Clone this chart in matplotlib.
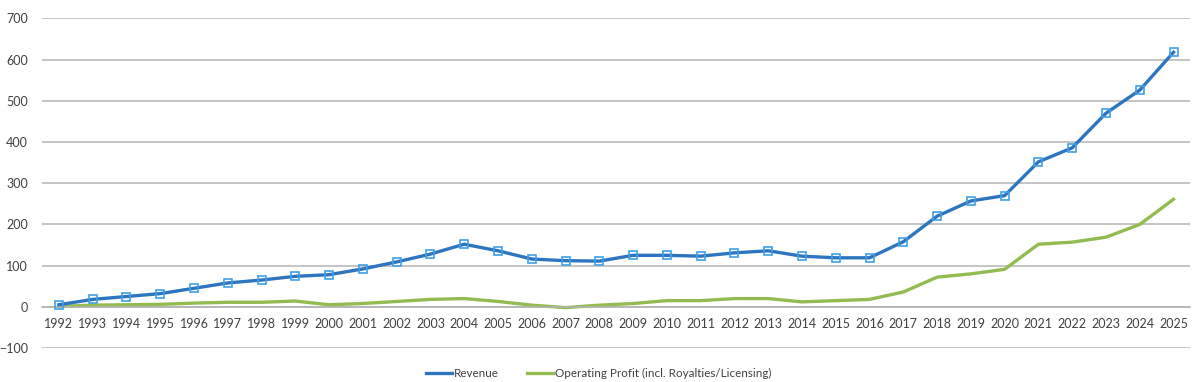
import numpy as np
from matplotlib import pyplot as plt
from matplotlib.lines import Line2D

years = list(range(1992, 2026))
revenue = [5, 18, 25, 32, 45, 58, 65, 74, 78, 92,
           109, 128, 152, 136, 116, 112, 111, 125, 125, 123,
           131, 136, 123, 119, 119, 158, 220, 257, 270, 352,
           386, 470, 526, 618]
op_profit = [1, 4, 5, 6, 9, 11, 11, 14, 5, 8,
             13, 18, 20, 13, 4, -2, 4, 8, 15, 15,
             20, 20, 12, 15, 18, 36, 72, 80, 91, 152,
             157, 169, 200, 261]
y_ticks = [-100, 0, 100, 200, 300, 400, 500, 600, 700]

plt.rcParams['font.family'] = ['Lato', 'DejaVu Sans']

rev_color = '#2E75C0'
op_color = '#93BC50'

fig = plt.figure(figsize=(12, 3.82), dpi=100)
ax = fig.add_axes([0.035, 0.089, 0.957, 0.8626])

ax.plot(years, revenue, color=rev_color, linewidth=2.4, marker='s', markersize=6,
        markerfacecolor='none', markeredgecolor='#3FA0E8', markeredgewidth=1.2,
        zorder=3)
ax.plot(years, op_profit, color=op_color, linewidth=2.4, zorder=2)

ax.set_xlim(1991.5, 2025.5)
ax.set_ylim(-100, 700)
ax.set_yticks(y_ticks)
ax.set_xticks(years)
ax.set_xticklabels([str(y) for y in years])
ax.grid(axis='y', color='#B4B4B4', linewidth=1.1)
ax.set_axisbelow(True)

for s in ['top', 'right', 'left']:
    ax.spines[s].set_visible(False)
ax.spines['bottom'].set_position(('data', 0))
ax.spines['bottom'].set_color('#B4B4B4')
ax.spines['bottom'].set_linewidth(1.1)
ax.tick_params(axis='both', length=0, labelsize=9, colors='#404040')
ax.tick_params(axis='x', pad=8)
ax.tick_params(axis='y', pad=10)

handles = [Line2D([], [], color=rev_color, linewidth=2.4),
           Line2D([], [], color=op_color, linewidth=2.4)]
labels = ['Revenue', 'Operating Profit (incl. Royalties/Licensing)']
fig.legend(handles, labels, loc='upper center', bbox_to_anchor=(0.499, 0.065), ncol=2,
           frameon=False, fontsize=8.4, handlelength=2.2, columnspacing=2.4,
           handletextpad=0.2, labelcolor='#404040')

fig.savefig('out.png')
